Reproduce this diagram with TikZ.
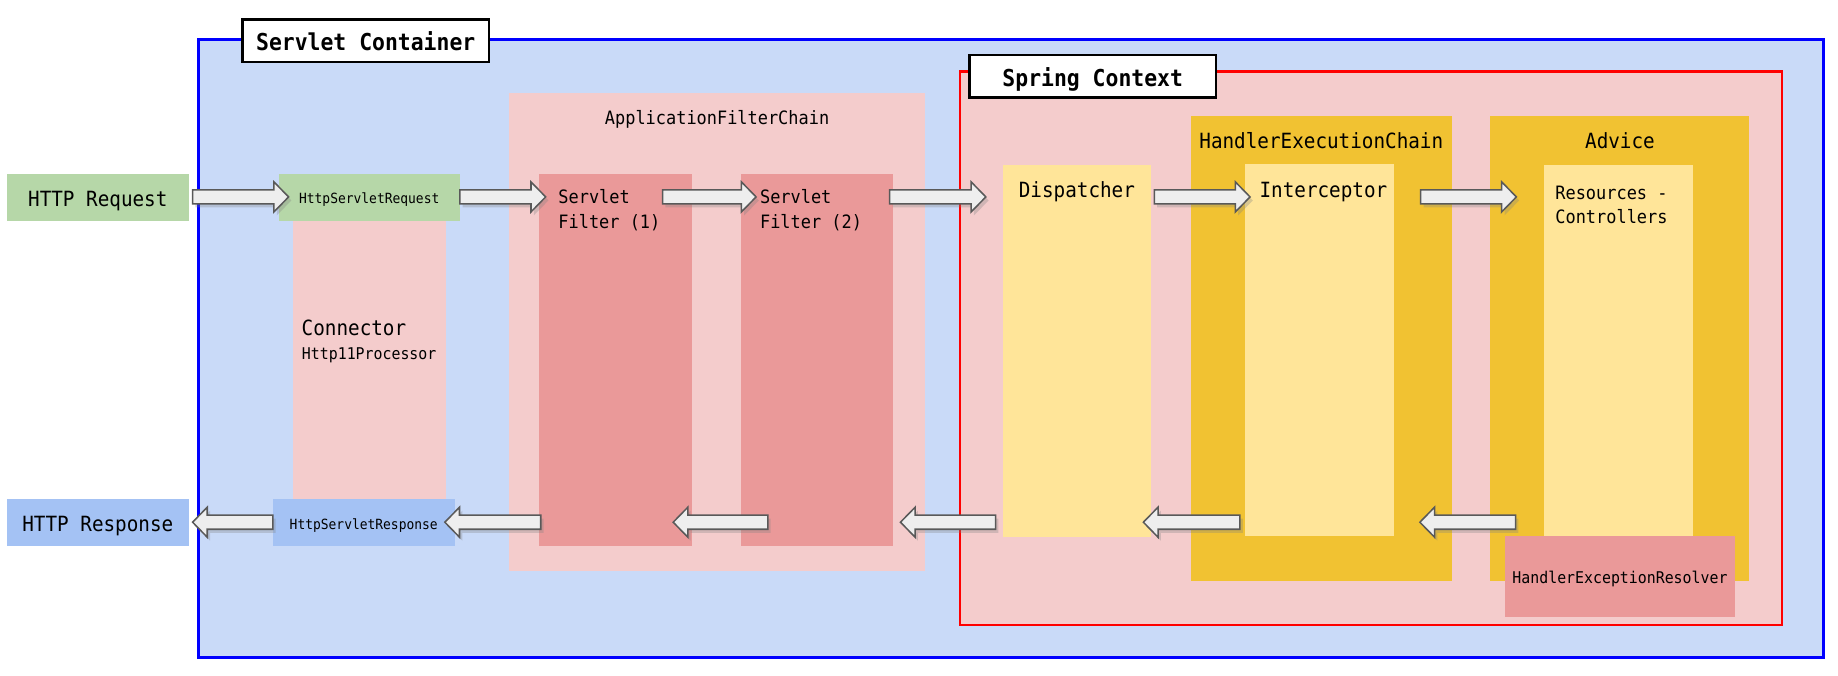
\documentclass[tikz,border=0pt]{standalone}
\usepackage{fontspec}
\setmainfont{DejaVu Sans Mono}[FakeStretch=0.92]
\usetikzlibrary{positioning,calc,shadows}
\definecolor{containerblue}{HTML}{C9DAF8}
\definecolor{borderblue}{HTML}{0000FF}
\definecolor{reqgreen}{HTML}{B6D7A8}
\definecolor{respblue}{HTML}{A4C2F4}
\definecolor{lightpink}{HTML}{F4CCCC}
\definecolor{darkpink}{HTML}{EA9999}
\definecolor{lightyellow}{HTML}{FFE599}
\definecolor{gold}{HTML}{F1C232}
\definecolor{arrowfill}{HTML}{EEEEEE}
\definecolor{arrowline}{HTML}{595959}
\newcommand\mainfs{\fontsize{8.94pt}{10.3pt}\selectfont}
\newcommand\midfs{\fontsize{7.85pt}{10.3pt}\selectfont}
\newcommand\smallfs{\fontsize{6.9pt}{8pt}\selectfont}
\newcommand\tinyfs{\fontsize{6pt}{7pt}\selectfont}
\newcommand\titlefs{\fontsize{9.93pt}{12pt}\selectfont\bfseries}
\tikzset{
  box/.style 2 args={anchor=north west, inner sep=0pt, outer sep=0pt,
    minimum width=#1*0.5pt, minimum height=#2*0.5pt},
  tag/.style={inner sep=0pt, anchor=base},
  blockarrow/.style={fill=arrowfill, draw=arrowline, line width=0.65pt, line join=miter,
    drop shadow={shadow xshift=1.2pt, shadow yshift=-1.5pt, opacity=0.3}}
}
\newcommand\blockflow[2]{%
  \path[blockarrow] let \p1=#1, \p2=#2, \n1={(\x2>\x1)?1:-1} in
    (\x1,{\y1+3pt}) -- ({\x2-(\n1)*6.25pt},{\y1+3pt}) -- ({\x2-(\n1)*6.25pt},{\y1+6.4pt})
    -- (\x2,\y1) -- ({\x2-(\n1)*6.25pt},{\y1-6.4pt}) -- ({\x2-(\n1)*6.25pt},{\y1-3pt})
    -- (\x1,{\y1-3pt}) -- cycle;}

\begin{document}
\begin{tikzpicture}[x=0.5pt, y=-0.5pt]
    \useasboundingbox (0,0) rectangle (1568,576);
    \coordinate (top) at (0,168);
    \coordinate (bottom) at (0,445.5);

    \node[box={1386.4}{527.4}, fill=containerblue, draw=borderblue, line width=1pt] (cont) at (169.3,33.6) {};
    \node[box={210.5}{36.4}, fill=white, draw=black, line width=1.1pt] (contlbl) at (206.8,16.5) {};
    \node[tag, font=\titlefs] (conttxt) at (312,43.2) {Servlet Container};

    \node[box={154.9}{40.1}, fill=reqgreen] (req) at (6,148.2) {};
    \node[tag, font=\mainfs] (reqtxt) at (83.45,176.3) {HTTP Request};
    \node[box={154.9}{40.1}, fill=respblue] (resp) at (6,425.7) {};
    \node[tag, font=\mainfs] (resptxt) at (83.45,453.8) {HTTP Response};

    \node[box={129.9}{237.4}, fill=lightpink] (conn) at (250.3,188.3) {};
    \node[tag, anchor=base west, font=\mainfs] (conntxt) at (257,286.4) {Connector};
    \node[tag, anchor=base west, font=\smallfs] (proctxt) at (257.2,306.3) {Http11Processor};
    \node[box={154.5}{40.1}, fill=reqgreen] (hsreq) at (237.8,148.2) {};
    \node[tag, font=\tinyfs] (hsreqtxt) at (315,174) {HttpServletRequest};
    \node[box={155.2}{40.1}, fill=respblue] (hsresp) at (232.7,425.7) {};
    \node[tag, font=\tinyfs] (hsresptxt) at (310.3,451.7) {HttpServletResponse};

    \node[box={354.5}{407.4}, fill=lightpink] (afc) at (434.5,79.6) {};
    \node[tag, font=\midfs] (afctxt) at (611.75,105.8) {ApplicationFilterChain};
    \node[box={130.3}{317.5}, fill=darkpink] (f1) at (459.8,148.2) {};
    \node[tag, anchor=base west, font=\midfs] (f1txt) at (476,174) {\begin{tabular}[t]{@{}l@{}}Servlet\\Filter (1)\end{tabular}};
    \node[box={129.7}{317.5}, fill=darkpink] (f2) at (631.9,148.2) {};
    \node[tag, anchor=base west, font=\midfs] (f2txt) at (648,174) {\begin{tabular}[t]{@{}l@{}}Servlet\\Filter (2)\end{tabular}};

    \node[box={701.1}{472.1}, fill=lightpink, draw=red, line width=1pt] (spring) at (818.9,61.1) {};
    \node[box={210.5}{36.4}, fill=white, draw=black, line width=1.1pt] (springlbl) at (826.9,46.9) {};
    \node[tag, font=\titlefs] (springtxt) at (932.2,73.9) {Spring Context};
    \node[box={126.3}{316.8}, fill=lightyellow] (disp) at (855.7,141) {};
    \node[tag, font=\mainfs] (disptxt) at (918.7,168.6) {Dispatcher};
    \node[box={222.4}{396.7}, fill=gold] (hec) at (1015.9,99) {};
    \node[tag, font=\mainfs] (hectxt) at (1127.2,126.5) {HandlerExecutionChain};
    \node[box={126.9}{317.4}, fill=lightyellow] (icp) at (1062.3,139.6) {};
    \node[tag, font=\mainfs] (icptxt) at (1129,168.8) {Interceptor};
    \node[box={221.3}{396.7}, fill=gold] (adv) at (1271.1,99) {};
    \node[tag, font=\mainfs] (advtxt) at (1382,126.5) {Advice};
    \node[box={127.2}{316.2}, fill=lightyellow] (res) at (1316.8,140.8) {};
    \node[tag, anchor=base west, font=\midfs] (restxt) at (1326.5,170) {\begin{tabular}[t]{@{}l@{}}Resources -\\Controllers\end{tabular}};
    \node[box={195.4}{68.8}, fill=darkpink] (her) at (1284.3,457.3) {};
    \node[tag, font=\smallfs] (hertxt) at (1382,498.2) {HandlerExceptionResolver};

    \blockflow{($(req.east|-top)+(3.4,0)$)}{($(hsreq.west|-top)+(8.4,0)$)}
    \blockflow{($(hsreq.east|-top)$)}{($(f1.west|-top)+(5.7,0)$)}
    \blockflow{($(f1.east|-top)+(-24.8,0)$)}{($(f2.west|-top)+(13.1,0)$)}
    \blockflow{($(f2.east|-top)+(-2.6,0)$)}{($(disp.west|-top)+(-14.7,0)$)}
    \blockflow{($(disp.east|-top)+(2.8,0)$)}{($(icp.west|-top)+(4.1,0)$)}
    \blockflow{($(icp.east|-top)+(22.8,0)$)}{($(res.west|-top)+(-23.2,0)$)}

    \blockflow{($(res.west|-bottom)+(-23.9,0)$)}{($(icp.east|-bottom)+(22.1,0)$)}
    \blockflow{($(icp.west|-bottom)+(-4.5,0)$)}{($(disp.east|-bottom)+(-6.6,0)$)}
    \blockflow{($(disp.west|-bottom)+(-6.4,0)$)}{($(f2.east|-bottom)+(6.6,0)$)}
    \blockflow{($(f2.west|-bottom)+(23.1,0)$)}{($(f1.east|-bottom)+(-15.8,0)$)}
    \blockflow{($(f1.west|-bottom)+(1.5,0)$)}{($(hsresp.east|-bottom)+(-8.4,0)$)}
    \blockflow{($(hsresp.west|-bottom)$)}{($(resp.east|-bottom)+(3.4,0)$)}
\end{tikzpicture}
\end{document}
